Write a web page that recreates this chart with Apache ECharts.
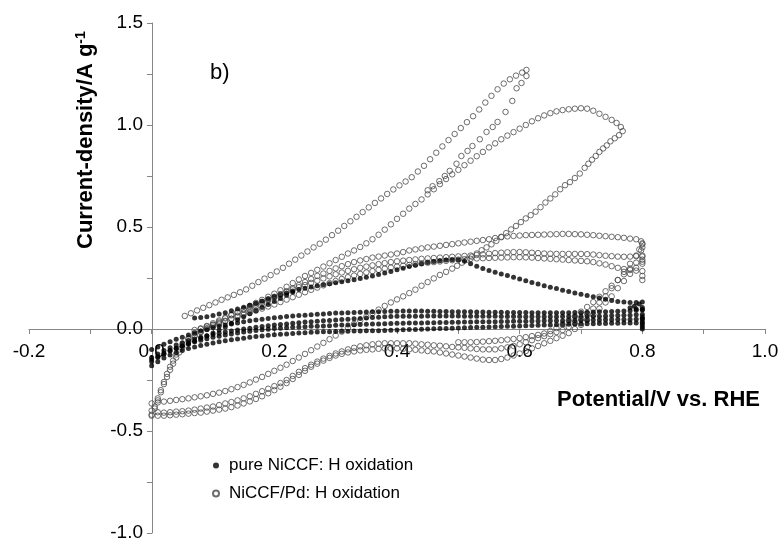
<!DOCTYPE html>
<html><head><meta charset="utf-8">
<script src="https://cdn.jsdelivr.net/npm/echarts@6/dist/echarts.min.js"></script>
<style>html,body{margin:0;padding:0;background:#fff}#c{width:779px;height:540px}</style>
</head><body><div id="c"></div>
<script>
// ---- tick labels ----
var xTicks = [-0.2, 0.0, 0.2, 0.4, 0.6, 0.8, 1.0];
var yTicks = [-1.0, -0.5, 0.0, 0.5, 1.0, 1.5];
var seriesNames = ['pure NiCCF: H oxidation', 'NiCCF/Pd: H oxidation'];

// ---- NiCCF/Pd (open circles) ----
var pdTop = [[0.054,0.064],[0.064,0.077],[0.074,0.091],[0.084,0.104],[0.094,0.117],[0.104,0.13],[0.114,0.143],[0.124,0.155],[0.134,0.167],[0.144,0.18],[0.154,0.194],[0.164,0.212],[0.174,0.23],[0.184,0.247],[0.194,0.264],[0.204,0.282],[0.214,0.3],[0.224,0.32],[0.234,0.34],[0.244,0.36],[0.254,0.38],[0.264,0.4],[0.274,0.418],[0.284,0.438],[0.294,0.46],[0.304,0.482],[0.314,0.505],[0.324,0.528],[0.334,0.55],[0.344,0.573],[0.354,0.596],[0.364,0.618],[0.374,0.64],[0.384,0.662],[0.394,0.684],[0.404,0.704],[0.414,0.723],[0.424,0.744],[0.434,0.772],[0.444,0.8],[0.454,0.832],[0.464,0.864],[0.474,0.895],[0.484,0.926],[0.494,0.956],[0.504,0.985],[0.514,1.014],[0.524,1.043],[0.534,1.076],[0.544,1.11],[0.554,1.143],[0.564,1.175],[0.574,1.203],[0.584,1.224],[0.594,1.242],[0.604,1.257],[0.611,1.27]];
var pdRiseBase = [[0.06,-0.05],[0.07,-0.032],[0.08,-0.014],[0.09,0.004],[0.10,0.02],[0.11,0.036],[0.12,0.052],[0.13,0.067],[0.14,0.082],[0.15,0.097],[0.16,0.113],[0.17,0.128],[0.18,0.143],[0.19,0.158],[0.20,0.173],[0.21,0.19],[0.22,0.207],[0.23,0.225],[0.24,0.243],[0.25,0.26],[0.26,0.275],[0.27,0.29],[0.28,0.306],[0.29,0.322],[0.30,0.338],[0.31,0.354],[0.32,0.37],[0.33,0.385],[0.34,0.402],[0.35,0.42],[0.36,0.44],[0.37,0.462],[0.38,0.487],[0.39,0.513],[0.40,0.54],[0.41,0.565],[0.42,0.59],[0.43,0.613],[0.44,0.635]];
var pdBranch = [[0.45,0.68],[0.458,0.70],[0.469,0.725],[0.478,0.75],[0.486,0.775],[0.497,0.81],[0.505,0.848],[0.515,0.873],[0.523,0.897],[0.535,0.93],[0.546,0.966],[0.556,0.99],[0.564,1.015],[0.577,1.064],[0.588,1.118],[0.595,1.18],[0.603,1.206],[0.611,1.24]];
var pdLoop = [[0.45,0.66],[0.46,0.685],[0.47,0.71],[0.48,0.735],[0.49,0.758],[0.50,0.78],[0.51,0.803],[0.52,0.825],[0.53,0.847],[0.54,0.868],[0.55,0.89],[0.56,0.91],[0.57,0.93],[0.58,0.948],[0.59,0.965],[0.60,0.982],[0.61,1.0],[0.62,1.018],[0.63,1.033],[0.64,1.047],[0.65,1.058],[0.66,1.067],[0.67,1.073],[0.68,1.077],[0.69,1.08],[0.70,1.082],[0.71,1.08],[0.72,1.07],[0.73,1.055],[0.74,1.04],[0.75,1.025],[0.758,1.01],[0.765,0.99],[0.768,0.97],[0.762,0.95],[0.755,0.935],[0.748,0.92],[0.742,0.9],[0.736,0.885],[0.73,0.868],[0.724,0.848],[0.718,0.83],[0.712,0.81],[0.706,0.79],[0.698,0.762],[0.69,0.74],[0.682,0.72],[0.674,0.705],[0.666,0.685],[0.658,0.66],[0.65,0.64],[0.642,0.62],[0.634,0.597],[0.626,0.575],[0.618,0.558],[0.61,0.542],[0.602,0.524],[0.594,0.505],[0.586,0.488],[0.578,0.47],[0.57,0.452],[0.562,0.432],[0.554,0.415],[0.546,0.4],[0.538,0.386],[0.53,0.37],[0.522,0.355],[0.514,0.34],[0.506,0.325],[0.498,0.31],[0.49,0.296],[0.48,0.28],[0.47,0.265],[0.46,0.248],[0.45,0.23],[0.44,0.212],[0.43,0.193],[0.42,0.176],[0.41,0.16],[0.40,0.145],[0.39,0.13],[0.38,0.113],[0.37,0.095],[0.36,0.078],[0.35,0.06],[0.34,0.042],[0.33,0.025],[0.32,0.006],[0.31,-0.013],[0.30,-0.032],[0.29,-0.05],[0.28,-0.068],[0.27,-0.086],[0.26,-0.104],[0.25,-0.122],[0.24,-0.14],[0.23,-0.157],[0.22,-0.175],[0.21,-0.19],[0.20,-0.205],[0.19,-0.22],[0.18,-0.235],[0.17,-0.248],[0.16,-0.262],[0.15,-0.274],[0.14,-0.285],[0.13,-0.295],[0.12,-0.304],[0.11,-0.312],[0.10,-0.318],[0.09,-0.325],[0.08,-0.33],[0.07,-0.335],[0.06,-0.34],[0.05,-0.344],[0.04,-0.348],[0.03,-0.352],[0.02,-0.356],[0.01,-0.36],[0.0,-0.365]];
var pdBottom = [[0,-0.425],[0.01,-0.425],[0.02,-0.425],[0.03,-0.423],[0.04,-0.42],[0.05,-0.418],[0.06,-0.415],[0.07,-0.412],[0.08,-0.41],[0.09,-0.405],[0.1,-0.4],[0.11,-0.395],[0.12,-0.39],[0.13,-0.383],[0.14,-0.375],[0.15,-0.365],[0.16,-0.355],[0.17,-0.343],[0.18,-0.33],[0.19,-0.315],[0.2,-0.3],[0.21,-0.283],[0.22,-0.265],[0.23,-0.245],[0.24,-0.225],[0.25,-0.205],[0.26,-0.185],[0.27,-0.17],[0.28,-0.155],[0.29,-0.142],[0.3,-0.13],[0.31,-0.122],[0.32,-0.115],[0.33,-0.11],[0.34,-0.105],[0.35,-0.102],[0.36,-0.1],[0.37,-0.097],[0.38,-0.095],[0.39,-0.095],[0.4,-0.095],[0.41,-0.097],[0.42,-0.1],[0.43,-0.102],[0.44,-0.105],[0.45,-0.108],[0.46,-0.11],[0.47,-0.115],[0.48,-0.12],[0.49,-0.125],[0.5,-0.13],[0.51,-0.135],[0.52,-0.14],[0.53,-0.145],[0.54,-0.15],[0.55,-0.152],[0.56,-0.152],[0.57,-0.147],[0.58,-0.14],[0.59,-0.13],[0.6,-0.12],[0.61,-0.108],[0.62,-0.095],[0.63,-0.083],[0.64,-0.07],[0.65,-0.058],[0.66,-0.045],[0.67,-0.033],[0.68,-0.02],[0.69,0.0],[0.70,0.02],[0.71,0.045],[0.72,0.07],[0.73,0.1],[0.74,0.13],[0.75,0.16],[0.76,0.2],[0.77,0.235],[0.78,0.27],[0.79,0.3],[0.8,0.33]];
var pdBottom2 = [[0,-0.4],[0.01,-0.408],[0.02,-0.41],[0.03,-0.408],[0.04,-0.405],[0.05,-0.403],[0.06,-0.4],[0.07,-0.395],[0.08,-0.39],[0.09,-0.385],[0.1,-0.38],[0.11,-0.373],[0.12,-0.365],[0.13,-0.358],[0.14,-0.35],[0.15,-0.34],[0.16,-0.33],[0.17,-0.318],[0.18,-0.305],[0.19,-0.293],[0.2,-0.28],[0.21,-0.265],[0.22,-0.25],[0.23,-0.23],[0.24,-0.21],[0.25,-0.192],[0.26,-0.175],[0.27,-0.16],[0.28,-0.145],[0.29,-0.132],[0.3,-0.12],[0.31,-0.11],[0.32,-0.1],[0.33,-0.092],[0.34,-0.085],[0.35,-0.08],[0.36,-0.075],[0.37,-0.072],[0.38,-0.07],[0.39,-0.07],[0.4,-0.07],[0.41,-0.07],[0.42,-0.07],[0.43,-0.072],[0.44,-0.075],[0.45,-0.077],[0.46,-0.08],[0.47,-0.082],[0.48,-0.085],[0.49,-0.088],[0.5,-0.09],[0.51,-0.092],[0.52,-0.095],[0.53,-0.098],[0.54,-0.1],[0.55,-0.1],[0.56,-0.1],[0.57,-0.095],[0.58,-0.09],[0.59,-0.083],[0.6,-0.075],[0.61,-0.065],[0.62,-0.055],[0.63,-0.045],[0.64,-0.035],[0.65,-0.025],[0.66,-0.015],[0.67,-0.005],[0.68,0.01],[0.69,0.03],[0.7,0.05],[0.71,0.075],[0.72,0.1],[0.73,0.13],[0.74,0.16],[0.75,0.2],[0.76,0.24],[0.77,0.28],[0.78,0.32],[0.79,0.36],[0.795,0.39],[0.8,0.42]];
var pdRise3 = [[0.5,-0.065],[0.51,-0.065],[0.52,-0.065],[0.53,-0.064],[0.54,-0.062],[0.55,-0.06],[0.56,-0.058],[0.57,-0.055],[0.58,-0.052],[0.59,-0.049],[0.6,-0.045],[0.61,-0.04],[0.62,-0.035],[0.63,-0.029],[0.64,-0.022],[0.65,-0.01],[0.66,0.005],[0.67,0.022],[0.68,0.042],[0.69,0.062],[0.7,0.085],[0.71,0.108],[0.72,0.132],[0.73,0.158],[0.74,0.185],[0.75,0.212],[0.76,0.24],[0.77,0.268],[0.78,0.296],[0.79,0.325],[0.8,0.355]];
var pdFlatHigh = [[0.005,-0.39],[0.01,-0.35],[0.015,-0.31],[0.02,-0.27],[0.025,-0.235],[0.03,-0.2],[0.035,-0.17],[0.04,-0.14],[0.045,-0.115],[0.05,-0.09],[0.06,-0.06],[0.07,-0.035],[0.08,-0.015],[0.09,0.0],[0.10,0.012],[0.11,0.025],[0.12,0.038],[0.13,0.05],[0.14,0.065],[0.15,0.08],[0.16,0.095],[0.17,0.11],[0.18,0.125],[0.19,0.14],[0.20,0.155],[0.21,0.17],[0.22,0.185],[0.23,0.2],[0.24,0.215],[0.25,0.23],[0.26,0.245],[0.27,0.26],[0.28,0.272],[0.29,0.285],[0.30,0.297],[0.31,0.308],[0.32,0.318],[0.33,0.328],[0.34,0.336],[0.35,0.343],[0.36,0.35],[0.37,0.355],[0.38,0.36],[0.39,0.365],[0.40,0.37],[0.41,0.377],[0.42,0.385],[0.43,0.39],[0.44,0.395],[0.45,0.4],[0.46,0.404],[0.47,0.408],[0.48,0.412],[0.49,0.416],[0.50,0.42],[0.51,0.424],[0.52,0.428],[0.53,0.432],[0.54,0.436],[0.55,0.44],[0.56,0.446],[0.57,0.45],[0.58,0.454],[0.59,0.456],[0.60,0.458],[0.61,0.46],[0.62,0.461],[0.63,0.462],[0.64,0.463],[0.65,0.464],[0.66,0.465],[0.67,0.466],[0.68,0.466],[0.69,0.465],[0.70,0.464],[0.71,0.462],[0.72,0.46],[0.73,0.457],[0.74,0.455],[0.75,0.452],[0.76,0.45],[0.77,0.447],[0.78,0.443],[0.79,0.44],[0.798,0.43],[0.80,0.415],[0.80,0.4],[0.798,0.385]];
var pdFlatMid = [[0.0,-0.42],[0.005,-0.38],[0.01,-0.34],[0.015,-0.3],[0.02,-0.26],[0.025,-0.22],[0.03,-0.185],[0.035,-0.155],[0.04,-0.125],[0.045,-0.1],[0.05,-0.075],[0.06,-0.045],[0.07,-0.02],[0.08,0.0],[0.09,0.015],[0.10,0.028],[0.11,0.042],[0.12,0.056],[0.13,0.07],[0.14,0.082],[0.15,0.095],[0.16,0.107],[0.17,0.12],[0.18,0.133],[0.19,0.146],[0.20,0.158],[0.21,0.17],[0.22,0.182],[0.23,0.194],[0.24,0.205],[0.25,0.215],[0.26,0.226],[0.27,0.237],[0.28,0.248],[0.29,0.258],[0.30,0.268],[0.31,0.277],[0.32,0.285],[0.33,0.293],[0.34,0.3],[0.35,0.306],[0.36,0.312],[0.37,0.318],[0.38,0.323],[0.39,0.328],[0.40,0.332],[0.41,0.335],[0.42,0.338],[0.43,0.341],[0.44,0.344],[0.45,0.346],[0.46,0.348],[0.47,0.35],[0.48,0.352],[0.49,0.354],[0.50,0.356],[0.51,0.358],[0.52,0.36],[0.53,0.363],[0.54,0.366],[0.55,0.369],[0.56,0.372],[0.57,0.374],[0.58,0.376],[0.59,0.377],[0.60,0.377],[0.61,0.376],[0.62,0.374],[0.63,0.372],[0.64,0.37],[0.65,0.369],[0.66,0.368],[0.67,0.368],[0.68,0.368],[0.69,0.368],[0.70,0.368],[0.71,0.367],[0.72,0.365],[0.73,0.362],[0.74,0.359],[0.75,0.357],[0.76,0.355],[0.77,0.354],[0.78,0.355],[0.79,0.357],[0.80,0.36],[0.80,0.34],[0.80,0.32]];
var pdFlatLow = [[0.07,-0.005],[0.08,0.003],[0.09,0.012],[0.10,0.021],[0.11,0.03],[0.12,0.04],[0.13,0.05],[0.14,0.06],[0.15,0.07],[0.16,0.08],[0.17,0.09],[0.18,0.1],[0.19,0.11],[0.20,0.12],[0.21,0.132],[0.22,0.144],[0.23,0.156],[0.24,0.168],[0.25,0.18],[0.26,0.192],[0.27,0.203],[0.28,0.214],[0.29,0.225],[0.30,0.235],[0.31,0.245],[0.32,0.254],[0.33,0.262],[0.34,0.27],[0.35,0.277],[0.36,0.284],[0.37,0.29],[0.38,0.296],[0.39,0.301],[0.40,0.306],[0.41,0.31],[0.42,0.314],[0.43,0.318],[0.44,0.322],[0.45,0.325],[0.46,0.328],[0.47,0.331],[0.48,0.334],[0.49,0.337],[0.50,0.34],[0.51,0.342],[0.52,0.344],[0.53,0.346],[0.54,0.347],[0.55,0.348],[0.56,0.349],[0.57,0.35],[0.58,0.351],[0.59,0.352],[0.60,0.352],[0.61,0.351],[0.62,0.35],[0.63,0.348],[0.64,0.346],[0.65,0.344],[0.66,0.342],[0.67,0.34],[0.68,0.338],[0.69,0.336],[0.70,0.334],[0.71,0.332],[0.72,0.328],[0.73,0.322],[0.74,0.316],[0.75,0.308],[0.76,0.3],[0.77,0.294],[0.78,0.289],[0.79,0.286],[0.80,0.284],[0.80,0.26],[0.80,0.24]];

// ---- pure NiCCF (filled dots) ----
var niPeak = [[0.07,0.054],[0.08,0.056],[0.09,0.06],[0.10,0.066],[0.11,0.073],[0.12,0.08],[0.13,0.089],[0.14,0.098],[0.15,0.107],[0.16,0.116],[0.17,0.126],[0.18,0.136],[0.19,0.147],[0.20,0.158],[0.21,0.168],[0.22,0.177],[0.23,0.186],[0.24,0.194],[0.25,0.2],[0.26,0.206],[0.27,0.212],[0.28,0.217],[0.29,0.222],[0.30,0.227],[0.31,0.232],[0.32,0.237],[0.33,0.242],[0.34,0.248],[0.35,0.254],[0.36,0.26],[0.37,0.267],[0.38,0.274],[0.39,0.282],[0.40,0.29],[0.41,0.298],[0.42,0.306],[0.43,0.313],[0.44,0.32],[0.45,0.326],[0.46,0.331],[0.47,0.335],[0.48,0.338],[0.49,0.34],[0.50,0.339],[0.51,0.332],[0.52,0.32],[0.53,0.308],[0.54,0.297],[0.55,0.287],[0.56,0.278],[0.57,0.27],[0.58,0.262],[0.59,0.254],[0.60,0.245],[0.61,0.236],[0.62,0.228],[0.63,0.22],[0.64,0.212],[0.65,0.205],[0.66,0.198],[0.67,0.19],[0.68,0.184],[0.69,0.177],[0.70,0.17],[0.71,0.164],[0.72,0.158],[0.73,0.152],[0.74,0.146],[0.75,0.14],[0.76,0.135],[0.77,0.132],[0.78,0.13],[0.79,0.13],[0.80,0.132],[0.795,0.122],[0.787,0.112],[0.78,0.104],[0.79,0.098],[0.80,0.094]];
var niRise = [[0.0,-0.15],[0.01,-0.135],[0.02,-0.12],[0.03,-0.105],[0.04,-0.095],[0.05,-0.085],[0.06,-0.073],[0.07,-0.06],[0.08,-0.045],[0.09,-0.033],[0.10,-0.02],[0.11,-0.005],[0.12,0.01],[0.13,0.028],[0.14,0.045],[0.15,0.06],[0.16,0.075],[0.17,0.09],[0.18,0.105],[0.19,0.12],[0.20,0.135],[0.21,0.15],[0.22,0.165],[0.23,0.18]];
var niBand1 = [[0.0,-0.1],[0.01,-0.088],[0.02,-0.075],[0.03,-0.062],[0.04,-0.05],[0.05,-0.04],[0.06,-0.03],[0.07,-0.02],[0.08,-0.01],[0.09,-0.002],[0.10,0.007],[0.11,0.014],[0.12,0.02],[0.13,0.025],[0.14,0.03],[0.15,0.035],[0.16,0.04],[0.17,0.044],[0.18,0.048],[0.19,0.052],[0.20,0.055],[0.21,0.058],[0.22,0.061],[0.23,0.064],[0.24,0.066],[0.25,0.068],[0.26,0.07],[0.27,0.072],[0.28,0.074],[0.29,0.076],[0.30,0.078],[0.31,0.079],[0.32,0.08],[0.33,0.081],[0.34,0.082],[0.35,0.083],[0.36,0.084],[0.37,0.085],[0.38,0.086],[0.39,0.087],[0.40,0.087],[0.41,0.088],[0.42,0.088],[0.43,0.088],[0.44,0.088],[0.45,0.087],[0.46,0.087],[0.47,0.086],[0.48,0.086],[0.49,0.085],[0.50,0.085],[0.51,0.084],[0.52,0.084],[0.53,0.083],[0.54,0.083],[0.55,0.082],[0.56,0.082],[0.57,0.082],[0.58,0.081],[0.59,0.081],[0.60,0.081],[0.61,0.081],[0.62,0.08],[0.63,0.08],[0.64,0.08],[0.65,0.08],[0.66,0.08],[0.67,0.08],[0.68,0.08],[0.69,0.081],[0.70,0.081],[0.71,0.082],[0.72,0.083],[0.73,0.084],[0.74,0.085],[0.75,0.086],[0.76,0.087],[0.77,0.088],[0.78,0.09],[0.79,0.092],[0.80,0.095],[0.80,0.105]];
var niBand2 = [[0.0,-0.14],[0.01,-0.122],[0.02,-0.106],[0.03,-0.092],[0.04,-0.079],[0.05,-0.068],[0.06,-0.058],[0.07,-0.049],[0.08,-0.041],[0.09,-0.034],[0.10,-0.027],[0.11,-0.021],[0.12,-0.015],[0.13,-0.01],[0.14,-0.005],[0.15,0.0],[0.16,0.004],[0.17,0.008],[0.18,0.012],[0.19,0.016],[0.20,0.019],[0.21,0.022],[0.22,0.025],[0.23,0.028],[0.24,0.031],[0.25,0.034],[0.26,0.036],[0.27,0.038],[0.28,0.04],[0.29,0.042],[0.30,0.044],[0.31,0.046],[0.32,0.048],[0.33,0.05],[0.34,0.052],[0.35,0.054],[0.36,0.056],[0.37,0.058],[0.38,0.06],[0.39,0.061],[0.40,0.062],[0.41,0.062],[0.42,0.063],[0.43,0.063],[0.44,0.063],[0.45,0.064],[0.46,0.064],[0.47,0.064],[0.48,0.064],[0.49,0.064],[0.5,0.064],[0.51,0.063],[0.52,0.063],[0.53,0.063],[0.54,0.062],[0.55,0.062],[0.56,0.062],[0.57,0.061],[0.58,0.061],[0.59,0.061],[0.6,0.061],[0.61,0.06],[0.62,0.06],[0.63,0.06],[0.64,0.06],[0.65,0.06],[0.66,0.06],[0.67,0.061],[0.68,0.061],[0.69,0.061],[0.7,0.062],[0.71,0.062],[0.72,0.063],[0.73,0.063],[0.74,0.064],[0.75,0.065],[0.76,0.066],[0.77,0.067],[0.78,0.068],[0.79,0.07],[0.8,0.072],[0.8,0.06],[0.8,0.05]];
var niBand3 = [[0.0,-0.16],[0.01,-0.14],[0.02,-0.122],[0.03,-0.107],[0.04,-0.094],[0.05,-0.082],[0.06,-0.072],[0.07,-0.063],[0.08,-0.055],[0.09,-0.048],[0.10,-0.041],[0.11,-0.035],[0.12,-0.029],[0.13,-0.024],[0.14,-0.019],[0.15,-0.015],[0.16,-0.011],[0.17,-0.007],[0.18,-0.004],[0.19,-0.001],[0.2,0.002],[0.21,0.004],[0.22,0.006],[0.23,0.008],[0.24,0.01],[0.25,0.011],[0.26,0.013],[0.27,0.014],[0.28,0.015],[0.29,0.016],[0.3,0.018],[0.31,0.019],[0.32,0.02],[0.33,0.021],[0.34,0.022],[0.35,0.023],[0.36,0.024],[0.37,0.025],[0.38,0.026],[0.39,0.027],[0.4,0.028],[0.41,0.028],[0.42,0.029],[0.43,0.03],[0.44,0.03],[0.45,0.031],[0.46,0.031],[0.47,0.032],[0.48,0.032],[0.49,0.033],[0.5,0.033],[0.51,0.034],[0.52,0.034],[0.53,0.035],[0.54,0.035],[0.55,0.036],[0.56,0.036],[0.57,0.037],[0.58,0.037],[0.59,0.038],[0.6,0.038],[0.61,0.038],[0.62,0.039],[0.63,0.039],[0.64,0.04],[0.65,0.04],[0.66,0.041],[0.67,0.041],[0.68,0.042],[0.69,0.042],[0.7,0.043],[0.71,0.043],[0.72,0.044],[0.73,0.044],[0.74,0.045],[0.75,0.045],[0.76,0.046],[0.77,0.046],[0.78,0.047],[0.79,0.048],[0.8,0.05],[0.8,0.035],[0.8,0.02]];
var niBand4 = [[0.0,-0.18],[0.01,-0.16],[0.02,-0.142],[0.03,-0.128],[0.04,-0.116],[0.05,-0.105],[0.06,-0.096],[0.07,-0.088],[0.08,-0.081],[0.09,-0.075],[0.10,-0.069],[0.11,-0.063],[0.12,-0.058],[0.13,-0.053],[0.14,-0.049],[0.15,-0.045],[0.16,-0.041],[0.17,-0.037],[0.18,-0.034],[0.19,-0.031],[0.20,-0.028],[0.21,-0.026],[0.22,-0.024],[0.23,-0.022],[0.24,-0.02],[0.25,-0.018],[0.26,-0.016],[0.27,-0.015],[0.28,-0.014],[0.29,-0.013],[0.30,-0.012],[0.31,-0.011],[0.32,-0.011],[0.33,-0.01],[0.34,-0.01],[0.35,-0.009],[0.36,-0.008],[0.37,-0.008],[0.38,-0.007],[0.39,-0.006],[0.4,-0.005],[0.41,-0.004],[0.42,-0.003],[0.43,-0.002],[0.44,-0.001],[0.45,0.0],[0.46,0.001],[0.47,0.002],[0.48,0.003],[0.49,0.004],[0.5,0.005],[0.51,0.006],[0.52,0.007],[0.53,0.008],[0.54,0.009],[0.55,0.01],[0.56,0.011],[0.57,0.012],[0.58,0.013],[0.59,0.014],[0.6,0.015],[0.61,0.016],[0.62,0.017],[0.63,0.018],[0.64,0.019],[0.65,0.02],[0.66,0.021],[0.67,0.022],[0.68,0.023],[0.69,0.024],[0.7,0.025],[0.71,0.026],[0.72,0.026],[0.73,0.027],[0.74,0.027],[0.75,0.028],[0.76,0.028],[0.77,0.029],[0.78,0.029],[0.79,0.03],[0.8,0.03],[0.8,0.01],[0.8,0.0]];

var pdData = [].concat(pdTop, pdRiseBase, pdBranch, pdLoop, pdBottom, pdBottom2, pdRise3, pdFlatHigh, pdFlatMid, pdFlatLow);
var niData = [].concat(niPeak, niRise, niBand1, niBand2, niBand3, niBand4);

var FONT = 'Arial, "Liberation Sans", sans-serif';
var chart = echarts.init(document.getElementById('c'), null, {renderer: 'canvas'});
chart.setOption({
  animation: false,
  backgroundColor: '#fff',
  grid: {left: 29, right: 14, top: 23, bottom: 7, containLabel: false, outerBoundsMode: 'none'},
  xAxis: {
    type: 'value', min: xTicks[0], max: xTicks[xTicks.length - 1], interval: 0.2,
    offset: -204,
    axisLine: {onZero: false, lineStyle: {color: '#868686', width: 1}},
    axisTick: {show: true, inside: false, length: 5, lineStyle: {color: '#868686'}},
    minorTick: {show: true, splitNumber: 2, length: 5, lineStyle: {color: '#868686'}},
    splitLine: {show: false},
    axisLabel: {margin: 13, fontSize: 19, fontFamily: FONT, color: '#000',
      formatter: function (v) { return v.toFixed(1); }}
  },
  yAxis: {
    type: 'value', min: yTicks[0], max: yTicks[yTicks.length - 1], interval: 0.5,
    offset: -123,
    axisLine: {onZero: false, lineStyle: {color: '#868686', width: 1}},
    axisTick: {show: true, inside: false, length: 5, lineStyle: {color: '#868686'}},
    minorTick: {show: true, splitNumber: 2, length: 5, lineStyle: {color: '#868686'}},
    splitLine: {show: false},
    axisLabel: {margin: 9, fontSize: 19, fontFamily: FONT, color: '#000',
      formatter: function (v) { return v.toFixed(1); }}
  },
  legend: {
    orient: 'vertical', left: 212, top: 457, padding: 0, itemGap: 11, itemWidth: 6, itemHeight: 6,
    textStyle: {fontSize: 17, fontFamily: FONT, color: '#000', padding: [0, 0, 0, 5]},
    data: [{name: seriesNames[0], icon: 'circle'}, {name: seriesNames[1], icon: 'circle'}]
  },
  graphic: [
    {type: 'text', left: 210, top: 62, style: {text: 'b)', font: '22px ' + FONT, fill: '#000'}},
    {type: 'text', x: 557, y: 400, style: {text: 'Potential/V vs. RHE', font: 'bold 22px ' + FONT, fill: '#000', verticalAlign: 'middle', align: 'left'}},
    {type: 'text', x: 74, y: 249, rotation: Math.PI / 2,
      style: {text: '{a|Current-density/A g}{b|-1}', fill: '#000', verticalAlign: 'top', align: 'left',
        rich: {a: {font: 'bold 22px ' + FONT, fill: '#000'},
               b: {font: 'bold 14px ' + FONT, fill: '#000', verticalAlign: 'top', padding: [0, 0, 9, 0]}}}}
  ],
  series: [
    {name: seriesNames[1], type: 'scatter', data: pdData, symbol: 'circle', symbolSize: 5.5, z: 2,
      itemStyle: {color: 'rgba(255,255,255,0)', borderColor: '#4a4a4a', borderWidth: 1}},
    {name: seriesNames[0], type: 'scatter', data: niData, symbol: 'circle', symbolSize: 5, z: 3,
      itemStyle: {color: '#000'}}
  ]
});
</script></body></html>
